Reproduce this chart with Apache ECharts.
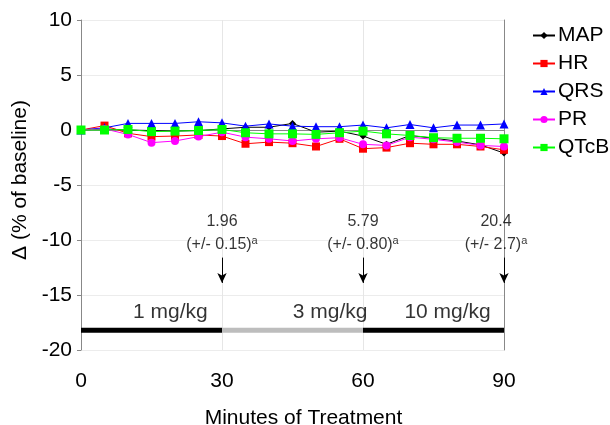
<!DOCTYPE html>
<html>
<head>
<meta charset="utf-8">
<script src="https://cdn.jsdelivr.net/npm/echarts@6/dist/echarts.min.js"></script>
<style>
  html, body { margin: 0; padding: 0; background: #fff; }
  #chart { width: 610px; height: 425px; }
</style>
</head>
<body>
<div id="chart"></div>
<script>
// minutes of treatment, one sample every 5 min
const minutes = [0, 5, 10, 15, 20, 25, 30, 35, 40, 45, 50, 55, 60, 65, 70, 75, 80, 85, 90];

// change from baseline (%)
const MAP  = [0, 0.1, 0, -0.05, -0.1, -0.05, 0.1, 0.25, 0.25, 0.6, -0.2, -0.1, -0.55, -1.3, -0.5, -0.75, -1.0, -1.35, -2.1];
const HR   = [0, 0.4, -0.3, -0.6, -0.55, -0.45, -0.55, -1.25, -1.1, -1.2, -1.5, -0.8, -1.7, -1.6, -1.2, -1.3, -1.3, -1.5, -1.8];
const QRS  = [0, 0.2, 0.6, 0.6, 0.6, 0.75, 0.65, 0.35, 0.55, 0.35, 0.3, 0.3, 0.45, 0.2, 0.5, 0.2, 0.45, 0.45, 0.55];
const PR   = [0, 0.1, -0.4, -1.15, -1.0, -0.6, -0.2, -0.65, -0.8, -1.0, -0.8, -0.7, -1.3, -1.4, -0.65, -0.85, -1.1, -1.4, -1.5];
const QTcB = [0, 0, 0.05, -0.15, -0.1, -0.05, 0.05, -0.25, -0.35, -0.35, -0.4, -0.25, -0.1, -0.35, -0.5, -0.7, -0.75, -0.75, -0.8];

// plasma concentrations at the end of each dose period
const sampleTimes = [30, 60, 90];
const concMean = ['1.96', '5.79', '20.4'];
const concSD = ['0.15', '0.80', '2.7'];

// infusion periods
const doseLabels = ['1 mg/kg', '3 mg/kg', '10 mg/kg'];
const doseStart = [0, 30, 60];
const doseEnd = [30, 60, 90];
const doseLabelAt = [19, 53, 78];

const font = '"Liberation Sans", Arial, sans-serif';
const pair = (arr) => minutes.map((m, i) => [m, arr[i]]);

const chart = echarts.init(document.getElementById('chart'));

const measures = [
    { name: 'MAP', data: MAP, color: '#000000', symbol: 'diamond', size: 7 },
    { name: 'HR', data: HR, color: '#ff0000', symbol: 'rect', size: 8 },
    { name: 'QRS', data: QRS, color: '#0000ff', symbol: 'triangle', size: 9 },
    { name: 'PR', data: PR, color: '#ff00ff', symbol: 'circle', size: 8 },
    { name: 'QTcB', data: QTcB, color: '#00ff00', symbol: 'rect', size: 9 },
];

const series = measures.map((m) => ({
    name: m.name,
    type: 'line',
    data: pair(m.data),
    symbol: m.symbol,
    symbolSize: m.size,
    showAllSymbol: true,
    color: m.color,
    lineStyle: { width: 1, color: m.color },
    itemStyle: { color: m.color },
    z: 5,
}));

// dose period bars
doseStart.forEach((s, i) => {
    series.push({
        type: 'line',
        data: [[s, -18.2], [doseEnd[i], -18.2]],
        symbol: 'none',
        lineStyle: { width: 5, color: i === 1 ? '#bdbdbd' : '#000000' },
        silent: true,
        z: 3,
    });
});

// dose labels
series.push({
    type: 'scatter',
    data: doseLabels.map((t, i) => ({ value: [doseLabelAt[i], -16.6], name: t })),
    symbolSize: 0,
    silent: true,
    label: {
        show: true,
        position: 'inside',
        formatter: (p) => p.name,
        fontFamily: font,
        fontSize: 21,
        color: '#000',
    },
});

// concentration annotations + arrows
series.push({
    type: 'scatter',
    data: sampleTimes.map((t, i) => ({
        value: [t, -9.4],
        name: concMean[i],
        sd: concSD[i],
        label: i === 2 ? { offset: [-8, 0] } : {},
    })),
    symbolSize: 0,
    silent: true,
    label: {
        show: true,
        position: 'inside',
        formatter: (p) => `{v|${p.data.name}}\n{v|(+/- ${p.data.sd})}{s|a}`,
        rich: {
            v: { fontFamily: font, fontSize: 16, color: '#000', lineHeight: 23 },
            s: { fontFamily: font, fontSize: 11, color: '#000', padding: [0, 0, 8, 0] },
        },
    },
    markLine: {
        silent: true,
        symbol: ['none', 'arrow'],
        symbolSize: [7, 10],
        label: { show: false },
        lineStyle: { color: '#000', width: 1, type: 'solid' },
        data: sampleTimes.map((t) => [{ coord: [t, -11.6] }, { coord: [t, -13.9] }]),
    },
});

chart.setOption({
    animation: false,
    textStyle: { fontFamily: font },
    grid: { left: 81, right: 106, top: 20, bottom: 75, containLabel: false, outerBoundsMode: 'none' },
    legend: {
        orient: 'vertical',
        left: 527,
        top: 20,
        itemGap: 7,
        itemWidth: 22,
        itemHeight: 9,
        textStyle: { fontSize: 21, color: '#000', fontFamily: font, padding: [0, 0, 0, -2] },
        data: measures.map((m) => m.name),
    },
    xAxis: {
        type: 'value',
        min: 0,
        max: 90,
        interval: 30,
        name: 'Minutes of Treatment',
        nameLocation: 'middle',
        nameGap: 58,
        nameTextStyle: { fontSize: 21, color: '#000', padding: [0, 0, 0, 22] },
        axisLine: { lineStyle: { color: '#888' } },
        axisTick: { show: true, length: 5, lineStyle: { color: '#888' } },
        axisLabel: { fontSize: 21, color: '#000', margin: 21 },
        splitLine: { show: true, lineStyle: { color: '#e6e6e6' } },
    },
    yAxis: [
        {
            type: 'value',
            min: -20,
            max: 10,
            interval: 5,
            name: 'Δ (% of baseline)',
            nameLocation: 'middle',
            nameGap: 47,
            nameTextStyle: { fontSize: 21, color: '#000', padding: [0, 0, 0, 10] },
            axisLine: { show: true, lineStyle: { color: '#888' } },
            axisTick: { show: true, length: 4, lineStyle: { color: '#888' } },
            axisLabel: { fontSize: 21, color: '#000', margin: 9 },
            splitLine: { show: true, lineStyle: { color: '#ececec' } },
        },
        {
            type: 'value',
            min: -20,
            max: 10,
            position: 'right',
            axisLine: { show: true, lineStyle: { color: '#888' } },
            axisTick: { show: false },
            axisLabel: { show: false },
            splitLine: { show: false },
        },
    ],
    series,
});
</script>
</body>
</html>
